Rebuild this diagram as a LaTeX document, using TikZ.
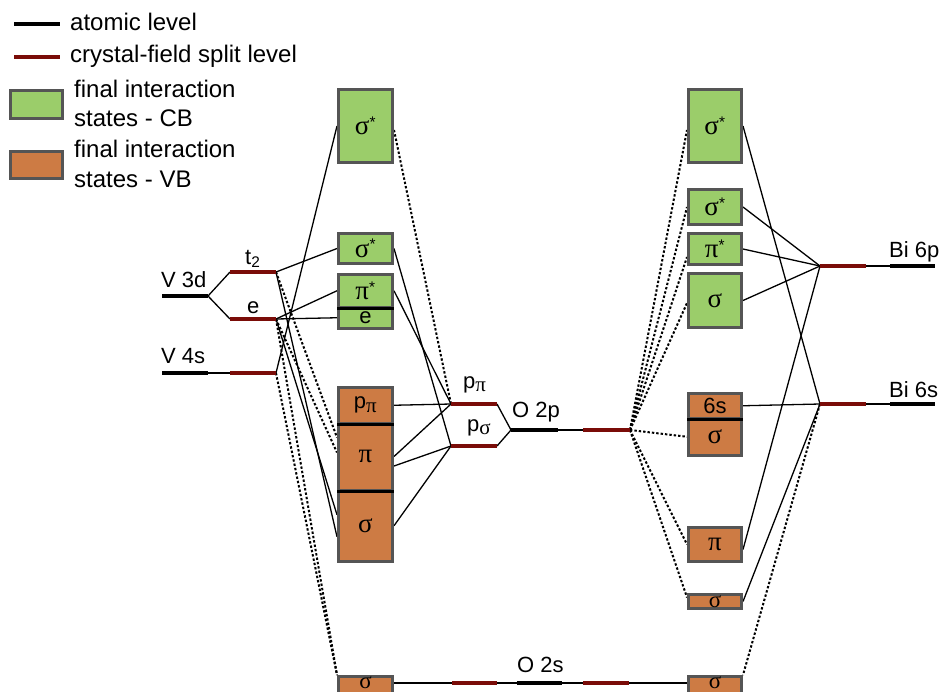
\documentclass[tikz,border=0pt]{standalone}
\usepackage{fontspec}
\setmainfont{Liberation Sans}
\newfontfamily\grk{Liberation Serif}
\newcommand\gk[1]{{\grk\fontsize{27}{30}\selectfont #1}}
\newcommand\gkm[1]{{\grk\fontsize{23}{26}\selectfont #1}}
\newcommand\gks[1]{{\grk\fontsize{21}{24}\selectfont #1}}
\definecolor{cbgreen}{RGB}{155,205,106}
\definecolor{vborange}{RGB}{205,123,68}
\definecolor{bordergray}{RGB}{85,85,85}
\definecolor{cfred}{RGB}{122,12,8}
\pgfdeclarelayer{bg}
\pgfsetlayers{bg,main}
\tikzset{
  atomic/.style={line width=4pt,black},
  cfsplit/.style={line width=4pt,cfred},
  conn/.style={line width=1.3pt,black},
  dots/.style={line width=2pt,black,dash pattern=on 2.4pt off 2pt},
  boxbase/.style={draw=bordergray,line width=3pt,inner sep=0pt,font=\fontsize{22}{26}\selectfont},
  cb/.style={boxbase,fill=cbgreen},
  vb/.style={boxbase,fill=vborange},
  lw/.style={minimum width=54pt},
  rw/.style={minimum width=53pt},
  divider/.style={line width=3pt,black},
  boxtext/.style={inner sep=0pt},
  lbl/.style={anchor=base west,inner sep=0pt,font=\fontsize{22}{26}\selectfont},
  leg/.style={anchor=base west,inner sep=0pt,font=\fontsize{24}{28}\selectfont}
}
\begin{document}
\begin{tikzpicture}[x=1pt,y=-1pt]
\useasboundingbox (0,0) rectangle (939,691);
\begin{pgfonlayer}{bg}
\fill[white] (0,0) rectangle (939,691);
\end{pgfonlayer}

% ---------- legend ----------
\coordinate (la1) at (14,24); \coordinate (la2) at (60,24);
\coordinate (lb1) at (14,57); \coordinate (lb2) at (60,57);
\draw[atomic] (la1) -- (la2);
\draw[cfsplit] (lb1) -- (lb2);
\node[leg] (legt1) at (70,30) {atomic level};
\node[leg] (legt2) at (70,62) {crystal-field split level};
\node[cb,minimum width=52pt,minimum height=28pt] (legG) at (36.5,104.5) {};
\node[leg] (legt3) at (74,97) {final interaction};
\node[leg] (legt4) at (74,126) {states - CB};
\node[vb,minimum width=52pt,minimum height=27pt] (legO) at (36.5,165) {};
\node[leg] (legt5) at (74,157) {final interaction};
\node[leg] (legt6) at (74,187) {states - VB};

% ---------- level coordinates ----------
\coordinate (v3dA) at (162,296); \coordinate (v3dB) at (208,296);
\coordinate (t2A) at (230,272);  \coordinate (t2B) at (276,272);
\coordinate (eA) at (230,319);   \coordinate (eB) at (276,319);
\coordinate (v4sA) at (162,373); \coordinate (v4sB) at (208,373);
\coordinate (v4cA) at (230,373); \coordinate (v4cB) at (276,373);
\coordinate (ppiA) at (451,404); \coordinate (ppiB) at (497,404);
\coordinate (psA) at (451,446);  \coordinate (psB) at (497,446);
\coordinate (o2pA) at (511,430); \coordinate (o2pB) at (558,430);
\coordinate (o2cA) at (583,430); \coordinate (o2cB) at (630,430);
\coordinate (o2sA) at (517,683); \coordinate (o2sB) at (562,683);
\coordinate (o2sLA) at (452,683); \coordinate (o2sLB) at (497,683);
\coordinate (o2sRA) at (583,683); \coordinate (o2sRB) at (629,683);
\coordinate (b6pA) at (820,266); \coordinate (b6pB) at (866,266);
\coordinate (b6pC) at (890,266); \coordinate (b6pD) at (935,266);
\coordinate (b6sA) at (820,404); \coordinate (b6sB) at (866,404);
\coordinate (b6sC) at (890,404); \coordinate (b6sD) at (935,404);

% ---------- left boxes ----------
\node[cb,lw,minimum height=73pt] (L1) at (365.5,126) {\gk{σ}\textsuperscript{*}};
\node[cb,lw,minimum height=30pt] (L2) at (365.5,248.5) {\gk{σ}\textsuperscript{*}};
\node[cb,lw,minimum height=32.5pt] (L3a) at (365.5,290.75) {\gk{π}\textsuperscript{*}};
\node[cb,lw,minimum height=21.5pt] (L3b) at (365.5,317.75) {e};
\node[vb,lw,minimum height=35.5pt] (L4a) at (365.5,405.25) {p\textsubscript{\gks{π}}};
\node[vb,lw,minimum height=67pt] (L4b) at (365.5,456.5) {\gk{π}};
\node[vb,lw,minimum height=71.5pt] (L4c) at (365.5,525.75) {\gk{σ}};
\node[vb,lw,minimum height=20pt] (L5) at (365.5,686.5) {};
\node[boxtext] (L5t) at (365.5,683) {\gkm{σ}};
\draw[divider] (L3a.south west) -- (L3a.south east);
\draw[divider] (L4a.south west) -- (L4a.south east);
\draw[divider] (L4b.south west) -- (L4b.south east);

% ---------- right boxes ----------
\node[cb,rw,minimum height=73pt] (R1) at (715,126) {\gk{σ}\textsuperscript{*}};
\node[cb,rw,minimum height=35pt] (R2) at (715,207) {\gk{σ}\textsuperscript{*}};
\node[cb,rw,minimum height=31pt] (R3) at (715,249) {\gk{π}\textsuperscript{*}};
\node[cb,rw,minimum height=54pt] (R4) at (715,300.5) {\gk{σ}};
\node[vb,rw,minimum height=24.5pt] (R5a) at (715,405.75) {6s};
\node[vb,rw,minimum height=37.5pt] (R5b) at (715,436.75) {\gk{σ}};
\node[vb,rw,minimum height=34pt] (R6) at (715,544.5) {\gk{π}};
\node[vb,rw,minimum height=14pt] (R7) at (715,601.5) {\gkm{σ}};
\node[vb,rw,minimum height=20pt] (R8) at (715,686.5) {};
\node[boxtext] (R8t) at (715,683) {\gkm{σ}};
\draw[divider] (R5a.south west) -- (R5a.south east);

% ---------- connectors ----------
\begin{pgfonlayer}{bg}
\draw[conn] (v3dB) -- (t2A);
\draw[conn] (v3dB) -- (eA);
\draw[conn] (v4sB) -- (v4cA);
\draw[conn] (t2B) -- (L2.west);
\draw[conn] (eB) -- (L3a.west);
\draw[conn] (eB) -- (L3b.west);
\draw[conn] (v4cB) -- (L1.west);
\draw[conn] (t2B) -- ([yshift=-11pt]L4c.west);
\draw[conn] (eB) -- ([yshift=11pt]L4c.west);
\draw[dots] (t2B) -- ([yshift=19pt]L4b.west);
\draw[dots] (eB) -- ([yshift=4pt]L4b.west);
\draw[dots] (eB) -- (L5.north west);
\draw[dots] (v4cB) -- (L5.north west);
\draw[dots] ([yshift=-4pt]L1.east) -- (ppiA);
\draw[conn] (L2.east) -- (psA);
\draw[conn] (L3a.east) -- (ppiA);
\draw[conn] (L4a.east) -- (ppiA);
\draw[conn] (L4b.east) -- (ppiA);
\draw[conn] ([yshift=-9.5pt]L4b.east) -- (psA);
\draw[conn] (L4c.east) -- (psA);
\draw[conn] (ppiB) -- (o2pA);
\draw[conn] (psB) -- (o2pA);
\draw[conn] (o2pB) -- (o2cA);
\draw[dots] (o2cB) -- ([yshift=-4pt]R1.west);
\draw[dots] (o2cB) -- (R2.west);
\draw[dots] (o2cB) -- ([yshift=-8pt]R3.west);
\draw[dots] (o2cB) -- ([yshift=-2.5pt]R4.west);
\draw[dots] (o2cB) -- (R5b.west);
\draw[dots] (o2cB) -- (R6.west);
\draw[dots] (o2cB) -- ([yshift=4pt]R7.west);
\draw[conn] (R1.east) -- (b6sA);
\draw[conn] (R2.east) -- (b6pA);
\draw[conn] (R3.east) -- (b6pA);
\draw[conn] (R4.east) -- (b6pA);
\draw[conn] (R5a.east) -- (b6sA);
\draw[conn] ([yshift=-5pt]R6.east) -- (b6pA);
\draw[conn] (R7.east) -- (b6sA);
\draw[dots] (b6sA) -- (R8.north east);
\draw[conn] (b6pB) -- (b6pC);
\draw[conn] (b6sB) -- (b6sC);
\draw[conn] ([yshift=3.5pt]L5.east) -- ([yshift=3.5pt]R8.west);
\end{pgfonlayer}

% ---------- levels ----------
\draw[atomic] (v3dA) -- (v3dB);
\draw[cfsplit] (t2A) -- (t2B);
\draw[cfsplit] (eA) -- (eB);
\draw[atomic] (v4sA) -- (v4sB);
\draw[cfsplit] (v4cA) -- (v4cB);
\draw[cfsplit] (ppiA) -- (ppiB);
\draw[cfsplit] (psA) -- (psB);
\draw[atomic] (o2pA) -- (o2pB);
\draw[cfsplit] (o2cA) -- (o2cB);
\draw[atomic] (o2sA) -- (o2sB);
\draw[cfsplit] (o2sLA) -- (o2sLB);
\draw[cfsplit] (o2sRA) -- (o2sRB);
\draw[cfsplit] (b6pA) -- (b6pB);
\draw[atomic] (b6pC) -- (b6pD);
\draw[cfsplit] (b6sA) -- (b6sB);
\draw[atomic] (b6sC) -- (b6sD);

% ---------- labels ----------
\node[lbl] (tv3d) at (161,287) {V 3d};
\node[lbl] (tt2) at (245,264) {t\textsubscript{2}};
\node[lbl] (te) at (247,313) {e};
\node[lbl] (tv4s) at (161,363) {V 4s};
\node[lbl] (tppi) at (463,388) {p\textsubscript{\gks{π}}};
\node[lbl] (tps) at (467,431) {p\textsubscript{\gks{σ}}};
\node[lbl] (to2p) at (512,417) {O 2p};
\node[lbl] (to2s) at (517,672) {O 2s};
\node[lbl] (tb6p) at (889,257) {Bi 6p};
\node[lbl] (tb6s) at (889,397) {Bi 6s};
\end{tikzpicture}
\end{document}
